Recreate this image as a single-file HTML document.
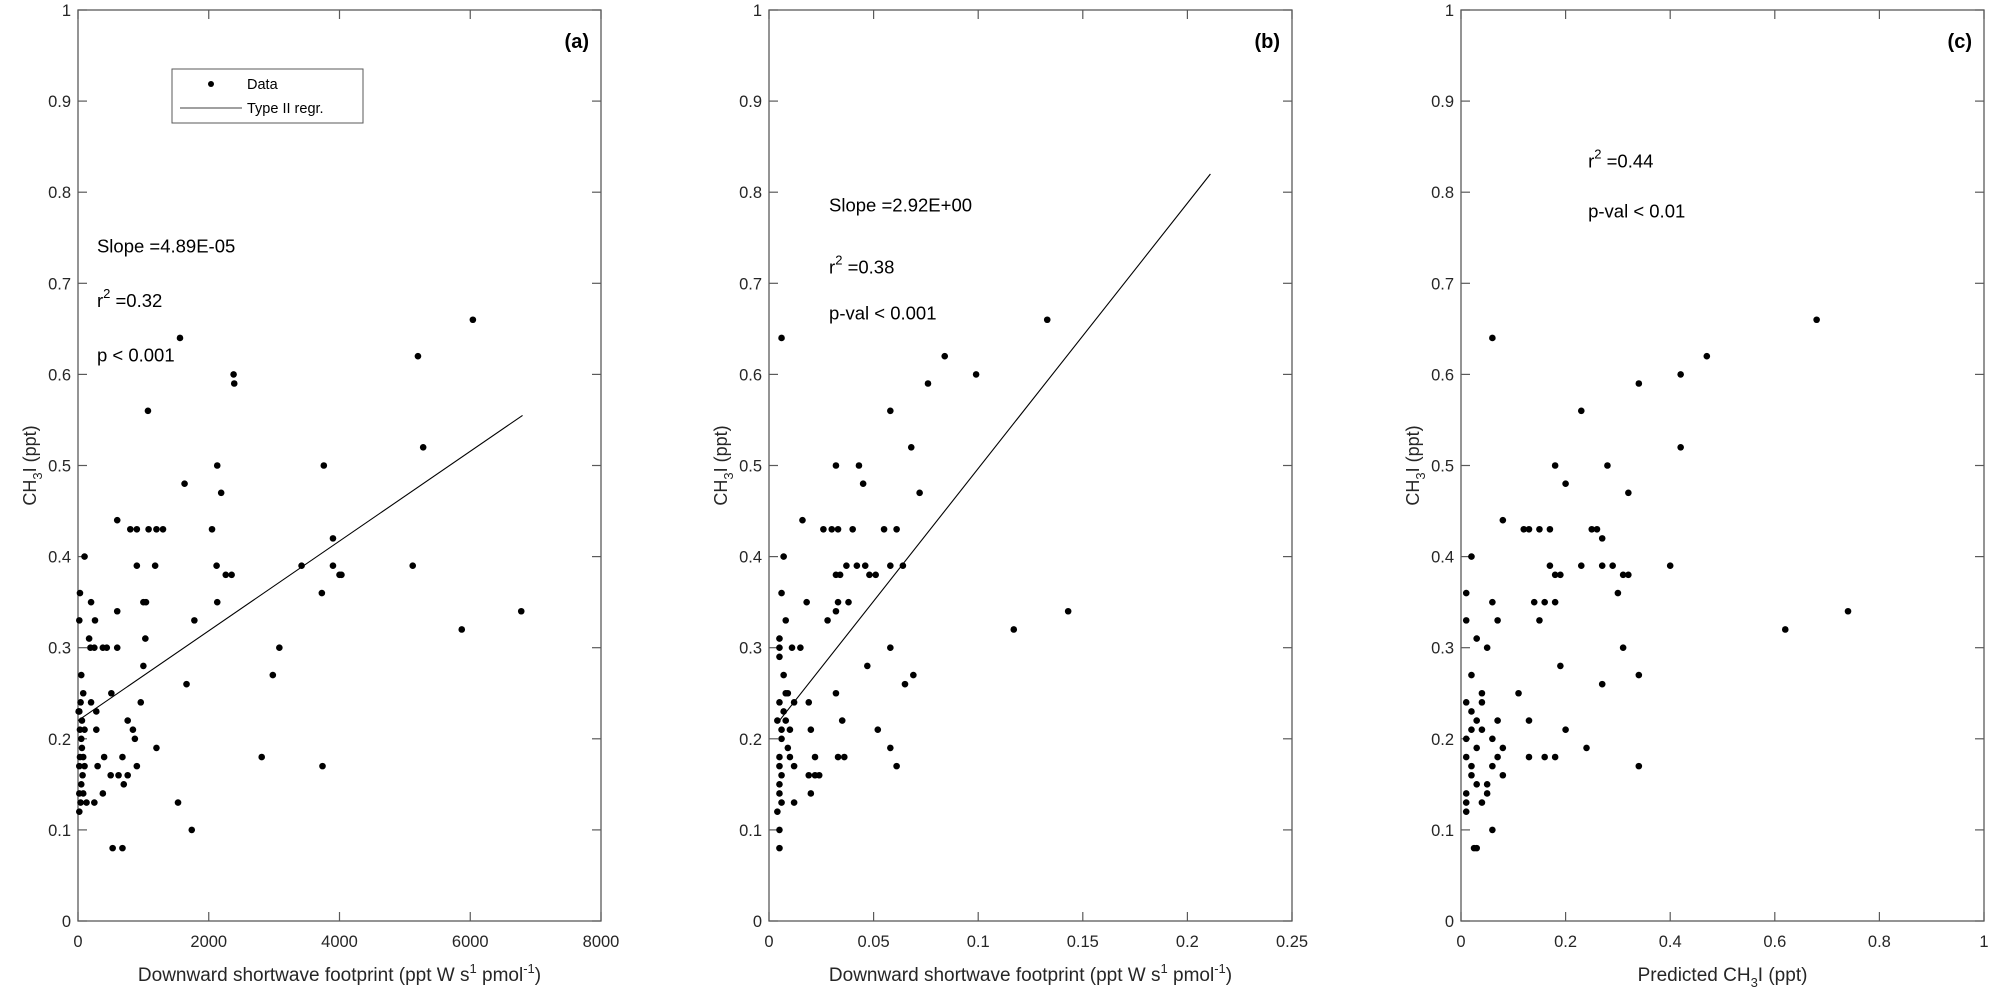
<!DOCTYPE html>
<html><head><meta charset="utf-8"><style>
html,body{margin:0;padding:0;background:#fff;}
svg{display:block;font-family:"Liberation Sans",sans-serif;}
</style></head><body>
<svg id="fig" width="1990" height="991" viewBox="0 0 1990 991" xmlns="http://www.w3.org/2000/svg"></svg>
<script>
// Panel (a) data
const aX = [6040,5200,5280,5120,5870,6780,3760,3900,3900,4000,4030,3730,3420,3740,2380,2390,1560,1070,2130,2190,2120,2260,2350,2130,2050,1200,1300,1180,1080,1630,1780,1660,3080,2980,2810,1740,1530,1200,1000,1040,1030,1000,960,900,800,900,840,870,900,760,760,680,620,700,500,510,440,400,380,300,280,250,200,600,600,600,680,530,200,170,190,250,260,100,30,20,50,80,40,20,60,100,30,50,60,30,80,20,70,50,20,80,40,130,20,10,100,380,280];
const aY = [0.66,0.62,0.52,0.39,0.32,0.34,0.50,0.42,0.39,0.38,0.38,0.36,0.39,0.17,0.60,0.59,0.64,0.56,0.50,0.47,0.39,0.38,0.38,0.35,0.43,0.43,0.43,0.39,0.43,0.48,0.33,0.26,0.30,0.27,0.18,0.10,0.13,0.19,0.35,0.35,0.31,0.28,0.24,0.43,0.43,0.39,0.21,0.20,0.17,0.22,0.16,0.18,0.16,0.15,0.16,0.25,0.30,0.18,0.14,0.17,0.21,0.13,0.24,0.44,0.34,0.30,0.08,0.08,0.35,0.31,0.30,0.30,0.33,0.40,0.36,0.33,0.27,0.25,0.24,0.23,0.22,0.21,0.21,0.20,0.19,0.18,0.18,0.17,0.16,0.15,0.14,0.14,0.13,0.13,0.12,0.23,0.17,0.30,0.23];
const aLineX = [0,6800];
const aLineY = [0.22,0.555];
const aXTicks = [0,2000,4000,6000,8000];
// Panel (b) data
const bX = [0.133,0.084,0.099,0.076,0.006,0.058,0.068,0.043,0.032,0.045,0.072,0.143,0.117,0.026,0.03,0.033,0.04,0.055,0.061,0.016,0.037,0.042,0.046,0.058,0.064,0.048,0.051,0.034,0.032,0.007,0.033,0.038,0.018,0.028,0.032,0.011,0.015,0.058,0.047,0.069,0.065,0.032,0.019,0.035,0.052,0.02,0.058,0.036,0.033,0.061,0.022,0.024,0.022,0.019,0.02,0.012,0.006,0.008,0.005,0.005,0.007,0.008,0.005,0.007,0.004,0.008,0.006,0.01,0.006,0.009,0.005,0.01,0.005,0.012,0.006,0.005,0.005,0.006,0.004,0.005,0.005,0.009,0.012,0.005];
const bY = [0.66,0.62,0.60,0.59,0.64,0.56,0.52,0.50,0.50,0.48,0.47,0.34,0.32,0.43,0.43,0.43,0.43,0.43,0.43,0.44,0.39,0.39,0.39,0.39,0.39,0.38,0.38,0.38,0.38,0.40,0.35,0.35,0.35,0.33,0.34,0.30,0.30,0.30,0.28,0.27,0.26,0.25,0.24,0.22,0.21,0.21,0.19,0.18,0.18,0.17,0.18,0.16,0.16,0.16,0.14,0.13,0.36,0.33,0.31,0.30,0.27,0.25,0.24,0.23,0.22,0.22,0.21,0.21,0.20,0.19,0.18,0.18,0.17,0.17,0.16,0.15,0.14,0.13,0.12,0.10,0.08,0.25,0.24,0.29];
const bLineX = [0.005,0.211];
const bLineY = [0.22,0.82];
const bXTicks = [0,0.05,0.1,0.15,0.2,0.25];
// Panel (c) data
const cX = [0.68,0.47,0.42,0.34,0.06,0.23,0.42,0.28,0.18,0.20,0.32,0.74,0.62,0.08,0.12,0.13,0.15,0.17,0.25,0.26,0.27,0.23,0.27,0.29,0.40,0.17,0.18,0.19,0.31,0.32,0.02,0.30,0.14,0.16,0.18,0.06,0.15,0.07,0.31,0.05,0.03,0.01,0.01,0.19,0.34,0.27,0.11,0.04,0.13,0.20,0.24,0.13,0.18,0.16,0.34,0.02,0.01,0.04,0.02,0.03,0.07,0.02,0.04,0.01,0.06,0.03,0.01,0.07,0.02,0.06,0.08,0.02,0.05,0.03,0.01,0.04,0.01,0.01,0.06,0.025,0.03,0.08,0.05];
const cY = [0.66,0.62,0.60,0.59,0.64,0.56,0.52,0.50,0.50,0.48,0.47,0.34,0.32,0.44,0.43,0.43,0.43,0.43,0.43,0.43,0.42,0.39,0.39,0.39,0.39,0.39,0.38,0.38,0.38,0.38,0.40,0.36,0.35,0.35,0.35,0.35,0.33,0.33,0.30,0.30,0.31,0.33,0.36,0.28,0.27,0.26,0.25,0.25,0.22,0.21,0.19,0.18,0.18,0.18,0.17,0.27,0.24,0.24,0.23,0.22,0.22,0.21,0.21,0.20,0.20,0.19,0.18,0.18,0.17,0.17,0.16,0.16,0.15,0.15,0.14,0.13,0.13,0.12,0.10,0.08,0.08,0.19,0.14];
const cXTicks = [0,0.2,0.4,0.6,0.8,1];
const yTicks = [0,0.1,0.2,0.3,0.4,0.5,0.6,0.7,0.8,0.9,1];

const NS = "http://www.w3.org/2000/svg";
const svg = document.getElementById('fig');
function mk(tag, attrs, parent, text){
  const e = document.createElementNS(NS, tag);
  for (const k in attrs) e.setAttribute(k, attrs[k]);
  if (text !== undefined) e.textContent = text;
  (parent||svg).appendChild(e);
  return e;
}
const TOP = 10, BOT = 921, W = 523;

function panel(id, left, xmax, xs, ys, ticks, fmt) {
  const g = mk('g', {});
  
  
  const sx = v => left + v / xmax * W;
  const sy = v => BOT - v * (BOT - TOP);
  const box = mk('rect', {x:left, y:TOP, width:W, height:BOT-TOP, fill:'none', stroke:'#5a5a5a', 'stroke-width':1.3}, g);
  
  
  ticks.forEach(t => {
    const x = sx(t);
    mk('line', {x1:x, x2:x, y1:BOT, y2:BOT-9, stroke:'#5a5a5a', 'stroke-width':1.2}, g);
    mk('line', {x1:x, x2:x, y1:TOP, y2:TOP+9, stroke:'#5a5a5a', 'stroke-width':1.2}, g);
    const lb = mk('text', {x:x, y:BOT+26, 'font-size':16.5, 'text-anchor':'middle', fill:'#262626'}, g, fmt(t));
    
    
  });
  yTicks.forEach(t => {
    const y = sy(t);
    mk('line', {x1:left, x2:left+9, y1:y, y2:y, stroke:'#5a5a5a', 'stroke-width':1.2}, g);
    mk('line', {x1:left+W, x2:left+W-9, y1:y, y2:y, stroke:'#5a5a5a', 'stroke-width':1.2}, g);
    const lb = mk('text', {x:left-7, y:y+6, 'font-size':16.5, 'text-anchor':'end', fill:'#262626'}, g, String(t));
    
    
  });
  for (let i = 0; i < xs.length; i++) {
    const c = mk('circle', {cx:sx(xs[i]), cy:sy(ys[i]), r:3.3, fill:'#000'}, g);
    
    
  }
  const yt = mk('text', {transform:`translate(${left-42},${(TOP+BOT)/2}) rotate(-90)`, 'font-size':18, 'text-anchor':'middle', fill:'#262626'}, g);
  
  
  mk('tspan', {}, yt, 'CH');
  mk('tspan', {dy:6, 'font-size':13}, yt, '3');
  mk('tspan', {dy:-6}, yt, 'I (ppt)');
  const pl = mk('text', {x:left+W-12, y:TOP+38, 'font-size':20, 'font-weight':'bold', 'text-anchor':'end', fill:'#000'}, g, '(' + id + ')');
  
  
  return {g, sx, sy};
}
function line(p, lx, ly){
  const l = mk('line', {x1:p.sx(lx[0]), y1:p.sy(ly[0]), x2:p.sx(lx[1]), y2:p.sy(ly[1]), stroke:'#000', 'stroke-width':1.1}, p.g);
  
  
}
function txt(p, x, y, parts, name){
  const t = mk('text', {x:p.sx(x), y:p.sy(y), 'font-size':18.5, fill:'#000'}, p.g);
  
  
  parts.forEach(pt => mk('tspan', pt[1]||{}, t, pt[0]));
}
function xtitle(left, parts, name){
  const t = mk('text', {x:left+W/2, y:BOT+60, 'font-size':19, 'text-anchor':'middle', fill:'#262626'});
  
  
  parts.forEach(pt => mk('tspan', pt[1]||{}, t, pt[0]));
}
const swParts = [['Downward shortwave footprint  (ppt W s'],['1',{dy:-8,'font-size':13}],[' pmol',{dy:8}],['-1',{dy:-8,'font-size':13}],[')',{dy:8}]];
const sup = v => [['r'],['2',{dy:-9,'font-size':13}],[' =' + v,{dy:9}]];

// Panel a
const pa = panel('a', 78, 8000, aX, aY, aXTicks, v => String(v));
line(pa, aLineX, aLineY);
txt(pa, 290, 0.734, [['Slope =4.89E-05']], 'slope-annotation');
txt(pa, 290, 0.674, sup('0.32'), 'r2-annotation');
txt(pa, 290, 0.614, [['p < 0.001']], 'p-annotation');
xtitle(78, swParts, 'x-axis-title-a');
const lg = mk('g', {});


mk('rect', {x:172, y:69, width:191, height:54, fill:'#fff', stroke:'#5a5a5a', 'stroke-width':1}, lg);
mk('circle', {cx:211, cy:84, r:3, fill:'#000'}, lg);
mk('text', {x:247, y:89, 'font-size':14.5}, lg, 'Data');
mk('line', {x1:180, x2:242, y1:108, y2:108, stroke:'#000', 'stroke-width':0.8}, lg);
mk('text', {x:247, y:113, 'font-size':14.5}, lg, 'Type II regr.');

// Panel b
const pb = panel('b', 769, 0.25, bX, bY, bXTicks, v => String(v));
line(pb, bLineX, bLineY);
txt(pb, 0.0287, 0.779, [['Slope =2.92E+00']], 'slope-annotation');
txt(pb, 0.0287, 0.711, sup('0.38'), 'r2-annotation');
txt(pb, 0.0287, 0.660, [['p-val < 0.001']], 'p-annotation');
xtitle(769, swParts, 'x-axis-title-b');

// Panel c
const pc = panel('c', 1461, 1, cX, cY, cXTicks, v => String(v));
txt(pc, 0.243, 0.827, sup('0.44'), 'r2-annotation');
txt(pc, 0.243, 0.772, [['p-val < 0.01']], 'p-annotation');
xtitle(1461, [['Predicted CH'],['3',{dy:6,'font-size':13}],['I (ppt)',{dy:-6}]], 'x-axis-title-c');
</script>
</body></html>
